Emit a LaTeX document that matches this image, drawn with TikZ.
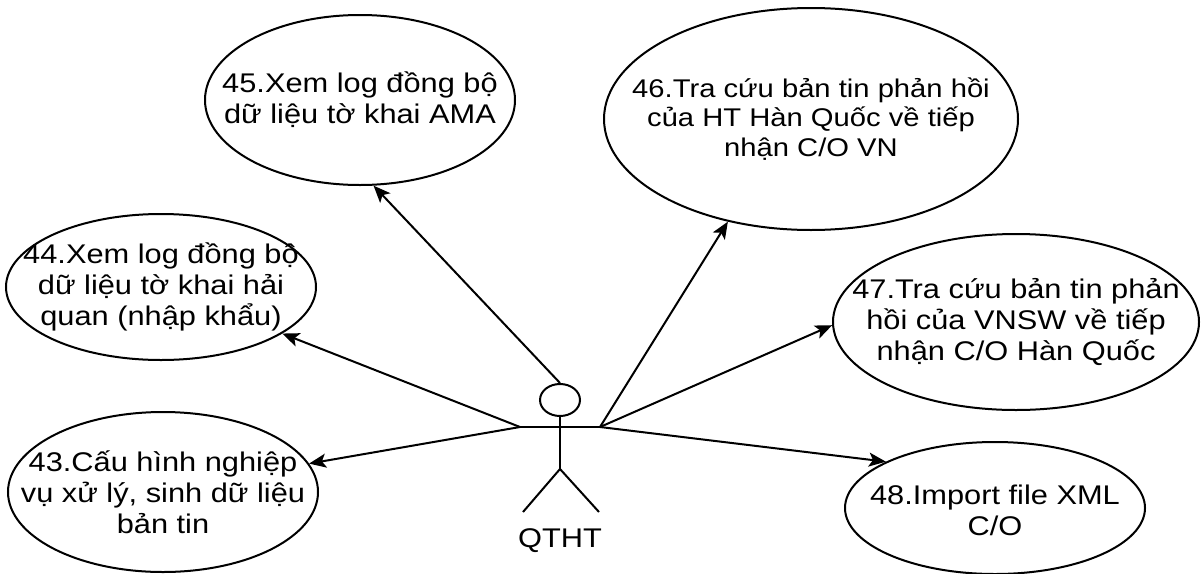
\documentclass[tikz,border=0pt]{standalone}
\usepackage{fontspec}
\setmainfont{Liberation Sans}[FakeStretch=1.14]
\usetikzlibrary{shapes.geometric,arrows.meta}
\begin{document}
\begin{tikzpicture}[x=1pt,y=-1pt,
  uc/.style={ellipse,draw,line width=2pt,inner sep=0pt},
  txt/.style={align=center,inner sep=0pt,font=\fontsize{27}{31}\selectfont},
  link/.style={line width=2pt,-{Stealth[length=17pt,width=14pt,inset=4pt]}},
  body/.style={line width=2pt}]
\useasboundingbox (0,0) rectangle (1204,573);
\fill[white] (0,0) rectangle (1204,573);
\node[uc,minimum width=310,minimum height=170] (e45) at (360,100) {};
\node[txt] (t45) at (e45) {45.Xem log đồng bộ\\dữ liệu tờ khai AMA};
\node[uc,minimum width=414,minimum height=222] (e46) at (811,119) {};
\node[txt,font=\fontsize{25.6}{29.5}\selectfont] (t46) at (e46) {46.Tra cứu bản tin phản hồi\\của HT Hàn Quốc về tiếp\\nhận C/O VN};
\node[uc,minimum width=310,minimum height=146] (e44) at (161,287) {};
\node[txt] (t44) at (e44) {44.Xem log đồng bộ\\dữ liệu tờ khai hải\\quan (nhập khẩu)};
\node[uc,minimum width=366,minimum height=176] (e47) at (1016,322) {};
\node[txt] (t47) at (e47) {47.Tra cứu bản tin phản\\hồi của VNSW về tiếp\\nhận C/O Hàn Quốc};
\node[uc,minimum width=310,minimum height=160] (e43) at (163,492) {};
\node[txt] (t43) at (e43) {43.Cấu hình nghiệp\\vụ xử lý, sinh dữ liệu\\bản tin};
\node[uc,minimum width=300,minimum height=132] (e48) at (995,508) {};
\node[txt] (t48) at ([yshift=-2pt]e48) {48.Import file XML\\C/O};
% actor
\node[draw,ellipse,body,minimum width=40,minimum height=32,inner sep=0pt] (head) at (560,400) {};
\coordinate (armL) at (520,427);
\coordinate (armR) at (600,427);
\coordinate (hip) at (560,469);
\coordinate (footL) at (523,512);
\coordinate (footR) at (599,512);
\draw[body] (head.south) -- (hip);
\draw[body] (armL) -- (armR);
\draw[body] (footL) -- (hip) -- (footR);
\node[txt] (qtht) at (560,541) {QTHT};
% links
\draw[link] (head.north) -- (e45.279);
\draw[link] (armL) -- (e44.-21);
\draw[link] (armL) -- (e43.11);
\draw[link] (armR) -- (e46.231);
\draw[link] (armR) -- (e47.181);
\draw[link] (armR) -- (e48.157);
\end{tikzpicture}
\end{document}
